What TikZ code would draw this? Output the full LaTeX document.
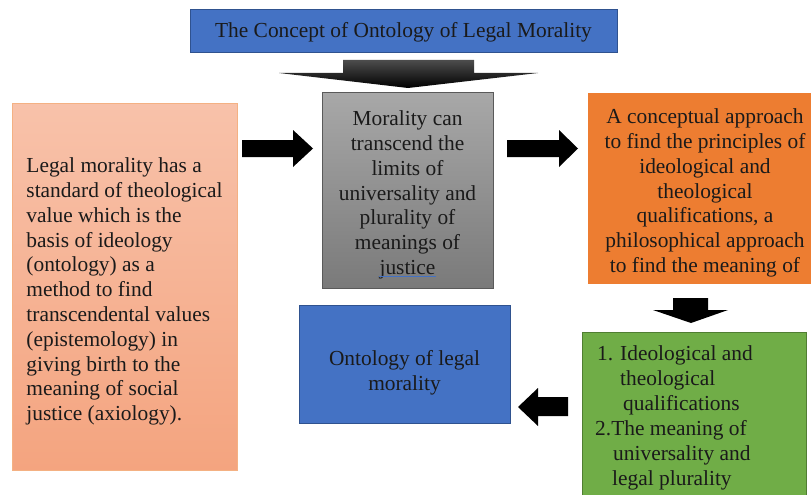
\documentclass[tikz,border=0pt]{standalone}
\usepackage{fontspec}
\setmainfont{Liberation Serif}
\usetikzlibrary{calc}
\definecolor{titleblue}{HTML}{4472C4}
\definecolor{blueborder}{HTML}{2F528F}
\definecolor{lefttop}{HTML}{F8C2AA}
\definecolor{leftbot}{HTML}{F4A47F}
\definecolor{leftborder}{HTML}{F4B183}
\definecolor{graytop}{HTML}{A8A8A8}
\definecolor{graybot}{HTML}{7A7A7A}
\definecolor{grayborder}{HTML}{5A5A5A}
\definecolor{orangefill}{HTML}{ED7D31}
\definecolor{greenfill}{HTML}{70AD47}
\definecolor{greenborder}{HTML}{507E32}
\definecolor{txt}{HTML}{1A1A1A}
\newcommand\diagfont{\fontsize{21.4}{24.8}\selectfont}
\tikzset{
  box/.style={line width=0.8pt, inner sep=0pt},
  label text/.style={inner sep=0pt, font=\diagfont, text=txt},
  blockarrow/.style={fill=black, draw=none},
}
\begin{document}
\begin{tikzpicture}[x=1pt,y=-1pt]
\useasboundingbox (0,0) rectangle (811,495);
% title
\node[box, fill=titleblue, draw=blueborder, minimum width=427pt, minimum height=43pt] (title) at (403.5,30.5) {};
\node[label text] (titletext) at (403.5,32) {The Concept of Ontology of Legal Morality};
% left box
\node[box, top color=lefttop, bottom color=leftbot, draw=leftborder, minimum width=225pt, minimum height=367pt] (left) at (124.5,286.5) {};
\node[label text, align=left] (lefttext) at (124.5,291.5)
 {Legal morality has a\\standard of theological\\value which is the\\basis of ideology\\(ontology) as a\\method to find\\transcendental values\\(epistemology) in\\giving birth to the\\meaning of social\\justice (axiology).};
% gray box
\node[box, top color=graytop, bottom color=graybot, draw=grayborder, minimum width=171pt, minimum height=196pt] (gray) at (407.5,190) {};
\node[label text, align=center] (graytext) at (407.5,195)
 {Morality can\\transcend the\\limits of\\universality and\\plurality of\\meanings of\\justice};
\coordinate (ulA) at (378.5,276.5);
\coordinate (ulB) at (435.5,276.5);
\draw[titleblue, line width=1.1pt] (ulA) -- (ulB);
% orange box
\node[box, fill=orangefill, minimum width=223pt, minimum height=191pt] (orange) at (699.5,188.5) {};
\node[label text, align=center] (orangetext) at (705,193)
 {A conceptual approach\\to find the principles of\\ideological and\\theological\\qualifications, a\\philosophical approach\\to find the meaning of};
% green box
\node[box, fill=greenfill, draw=greenborder, minimum width=224pt, minimum height=165pt] (green) at (694,414.5) {};
\node[label text, anchor=base west] (g1) at (597,360) {1.};
\node[label text, anchor=base west] (g1b) at (620,360) {Ideological and};
\node[label text, anchor=base west] (g2) at (620,385) {theological};
\node[label text, anchor=base west] (g3) at (623,410) {qualifications};
\node[label text, anchor=base west] (g4) at (595,435) {2.The meaning of};
\node[label text, anchor=base west] (g5) at (613,460) {universality and};
\node[label text, anchor=base west] (g6) at (612,485) {legal plurality};
% blue box
\node[box, fill=titleblue, draw=blueborder, minimum width=211pt, minimum height=118pt] (onto) at (404.5,364) {};
\node[label text, align=center] (ontotext) at (404.5,372.5) {Ontology of legal\\morality};
% big down arrow title -> gray
\shade[top color=black!70, bottom color=black] (343,60) -- (474,60) -- (474,73) -- (538,73) -- (408,88) -- (279,73) -- (343,73) -- cycle;
% left -> gray
\path[blockarrow] (242,140) -- (293,140) -- (293,130) -- (313,148.5) -- (293,167) -- (293,157) -- (242,157) -- cycle;
% gray -> orange
\path[blockarrow] (507,140) -- (559,140) -- (559,130) -- (578,148.5) -- (559,167) -- (559,157) -- (507,157) -- cycle;
% orange -> green
\path[blockarrow] (673,298) -- (708,298) -- (708,310) -- (728,310) -- (691,323) -- (653,310) -- (673,310) -- cycle;
% green -> onto
\path[blockarrow] (568,397) -- (538,397) -- (538,388) -- (518,407) -- (538,426) -- (538,416) -- (568,416) -- cycle;
\end{tikzpicture}
\end{document}
